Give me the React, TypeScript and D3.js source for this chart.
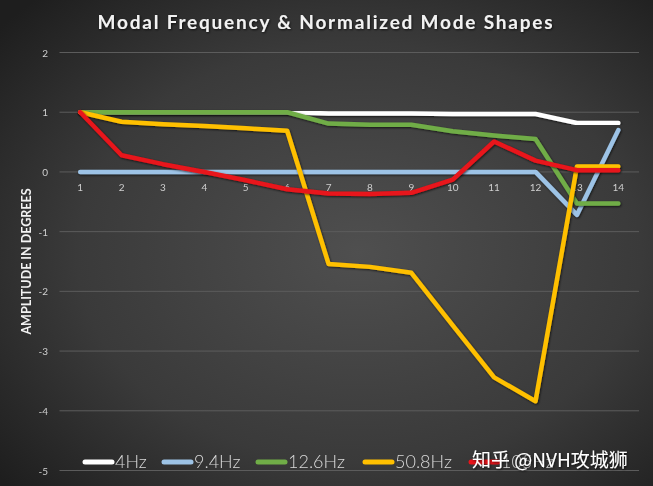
import React from "react";
import * as d3 from "d3";

const categories = ["1","2","3","4","5","6","7","8","9","10","11","12","13","14"];
const seriesNames = ["4Hz", "9.4Hz", "12.6Hz", "50.8Hz", "105Hz"];
const s4Hz = [1, 1, 1, 1, 1, 1, 0.98, 0.98, 0.98, 0.97, 0.97, 0.97, 0.82, 0.82];
const s9_4Hz = [0, 0, 0, 0, 0, 0, 0, 0, 0, 0, 0, 0, -0.72, 0.7];
const s12_6Hz = [1, 1, 1, 1, 1, 1, 0.81, 0.79, 0.79, 0.68, 0.61, 0.55, -0.53, -0.53];
const s50_8Hz = [1, 0.84, 0.8, 0.77, 0.73, 0.69, -1.54, -1.59, -1.69, -2.57, -3.44, -3.84, 0.09, 0.09];
const s105Hz = [1, 0.28, 0.13, 0.0, -0.14, -0.29, -0.36, -0.37, -0.35, -0.13, 0.51, 0.19, 0.03, 0.03];
const yTicks = [2, 1, 0, -1, -2, -3, -4, -5];
const colors = ["#ffffff", "#9dc3e6", "#70ad47", "#ffc000", "#e8141a"];
const title = "Modal Frequency & Normalized Mode Shapes";
const yTitle = "AMPLITUDE IN DEGREES";
const watermark = "知乎 @NVH攻城狮";

export default function App() {
  const W = 653, H = 486;
  const series = [s4Hz, s9_4Hz, s12_6Hz, s50_8Hz, s105Hz];
  const x = d3.scaleBand().domain(categories).range([59.5, 639]);
  const xc = (c: string) => (x(c) as number) + x.bandwidth() / 2;
  const y = d3.scaleLinear().domain([-5, 2]).range([470.5, 52.5]);
  const line = d3.line<number>().x((_, i) => xc(categories[i])).y((d) => y(d));
  const legendX = [85, 164, 258, 365, 471];
  const font = "Lato, 'Open Sans', sans-serif";
  return (
    <div style={{ position: "fixed", left: 0, top: 0 }}>
      <svg width={W} height={H} style={{ display: "block" }}>
        <defs>
          <radialGradient id="bg" cx="0.55" cy="0.52" r="0.72">
            <stop offset="0" stopColor="#4f4f4f" />
            <stop offset="0.6" stopColor="#3a3a3a" />
            <stop offset="1" stopColor="#1e1e1e" />
          </radialGradient>
          <filter id="sh" x="-10%" y="-10%" width="120%" height="120%">
            <feDropShadow dx="0.8" dy="1" stdDeviation="1" floodColor="#000" floodOpacity="0.7" />
          </filter>
        </defs>
        <rect width={W} height={H} fill="url(#bg)" />
        <text x={326} y={29} textAnchor="middle" fill="#f2f2f2" fontFamily={font} fontWeight={700}
          fontSize={19} letterSpacing={1.8} filter="url(#sh)">{title}</text>
        {yTicks.map((t) => (
          <g key={t}>
            <line x1={59.5} x2={639} y1={y(t)} y2={y(t)} stroke="#5c5c5c" strokeWidth={1} />
            <text x={48} y={y(t) + 4} textAnchor="end" fill="#cfcfcf" fontFamily={font} fontSize={10}>{t}</text>
          </g>
        ))}
        {categories.map((c) => (
          <text key={c} x={xc(c)} y={y(0) + 19} textAnchor="middle" fill="#cfcfcf" fontFamily={font} fontSize={10}>{c}</text>
        ))}
        <text transform={`translate(31,${(y(2) + y(-5)) / 2}) rotate(-90)`} textAnchor="middle" fill="#f2f2f2"
          fontFamily={font} fontWeight={700} fontSize={12.5}>{yTitle}</text>
        {series.map((s, i) => (
          <path key={i} d={line(s) as string} fill="none" stroke={colors[i]} strokeWidth={4.5}
            strokeLinejoin="round" strokeLinecap="round" filter="url(#sh)" />
        ))}
        {seriesNames.map((n, i) => (
          <g key={n}>
            <line x1={legendX[i]} x2={legendX[i] + 27} y1={462} y2={462} stroke={colors[i]} strokeWidth={5} strokeLinecap="round" />
            <text x={legendX[i] + 30} y={468} fill="#d9d9d9" fontFamily={font} fontSize={18} fontWeight={300}>{n}</text>
          </g>
        ))}
        <text x={472} y={467} fill="#ffffff" fontFamily="'Noto Sans CJK SC', sans-serif" fontSize={19} filter="url(#sh)">{watermark}</text>
      </svg>
    </div>
  );
}
